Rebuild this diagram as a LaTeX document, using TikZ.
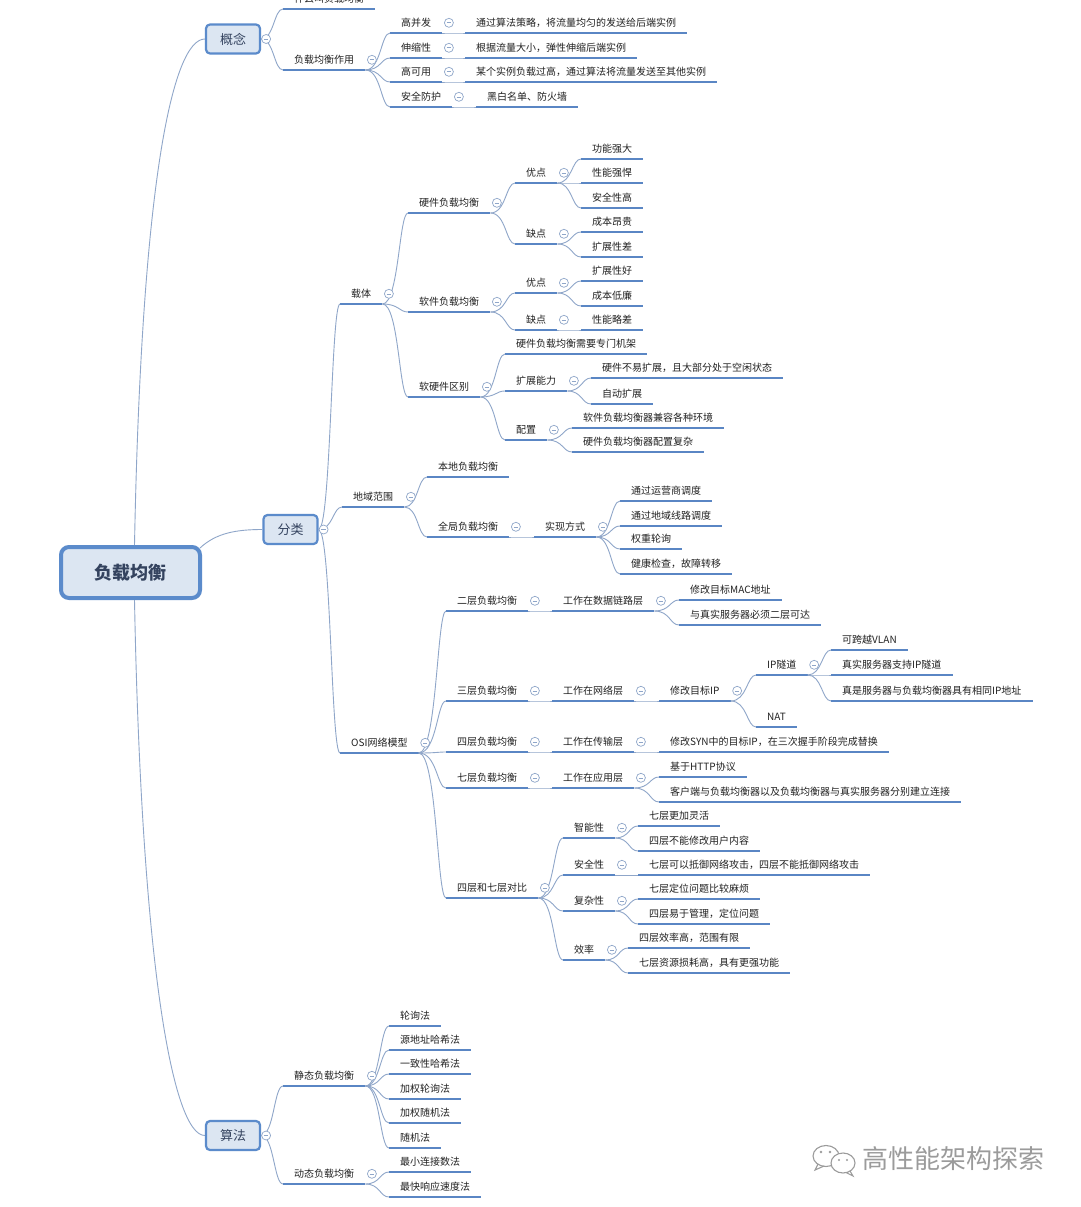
\documentclass[tikz,border=0pt]{standalone}
\usepackage{fontspec}
\setmainfont{Noto Sans CJK SC}
\usetikzlibrary{calc}
\definecolor{ul}{HTML}{5A86C4}
\definecolor{cl}{HTML}{8FA6C9}
\definecolor{bxf}{HTML}{DCE6F2}
\definecolor{bxd}{HTML}{5B8BCB}
\definecolor{tx}{HTML}{222222}
\definecolor{bt}{HTML}{34435F}
\definecolor{wm}{HTML}{9B9B9B}
\tikzset{
 tnode/.style={inner xsep=11pt, inner ysep=0pt, minimum height=20pt, font=\fontsize{10}{12}\selectfont, text=tx},
 uline/.style={draw=ul, line width=2.2pt},
 conn/.style={draw=cl, line width=0.9pt},
 colc/.style={circle, draw=cl, fill=white, line width=0.7pt, minimum size=9pt, inner sep=0pt,
   path picture={\draw[cl, line width=0.6pt] ($(path picture bounding box.west)+(2.3pt,0)$) -- ($(path picture bounding box.east)+(-2.3pt,0)$);}},
 lbox/.style={draw=bxd, fill=bxf, line width=2.2pt, rounded corners=4pt, minimum width=54pt, minimum height=29pt, font=\fontsize{13}{15}\selectfont, text=bt},
 rbox/.style={draw=bxd, fill=bxf, line width=4pt, rounded corners=8pt, minimum width=139pt, minimum height=51pt, font=\fontsize{18}{20}\selectfont\bfseries, text=bt},
}
\newcommand{\tn}[4]{\node[tnode, anchor=south west] (#1) at (#2,#3) {#4};\draw[uline] (#1.south west) -- (#1.south east);}
\newcommand{\cm}[1]{\node[colc] (#1-c) at ($(#1.east)+(6.5pt,0)$) {};}
\newcommand{\cmb}[1]{\node[colc] (#1-c) at ($(#1.east)+(5pt,0)$) {};}
\newcommand{\cn}[2]{\draw[conn] let \p1=(#1.south east), \p2=(#2.south west) in (\p1) .. controls (\x2-9pt,\y1) and (\x2-9pt,\y2) .. (\p2);}
\newcommand{\cb}[2]{\draw[conn] let \p1=(#1.east), \p2=(#2.south west) in (\p1) .. controls (\x2-9pt,\y1) and (\x2-9pt,\y2) .. (\p2);}
\newcommand{\cns}[2]{\foreach \ch in {#2} {\cn{#1}{\ch}}}
\begin{document}
\begin{tikzpicture}[x=1pt,y=-1pt]
\fill[white] (0,0) rectangle (1080,1207);
\useasboundingbox (0,0) rectangle (1080,1207);
% boxes
\node[rbox] (root) at (130.5,572.5) {负载均衡};
\node[lbox] (gn) at (233,39) {概念};
\node[lbox] (fl) at (290.5,529.5) {分类};
\node[lbox] (sf) at (233,1135.5) {算法};
% 概念
\tn{q1}{283}{9}{什么叫负载均衡}
\tn{q2}{283}{70}{负载均衡作用}
\tn{g1}{390}{33}{高并发}
\tn{g1d}{465}{33}{通过算法策略，将流量均匀的发送给后端实例}
\tn{g2}{390}{58}{伸缩性}
\tn{g2d}{465}{58}{根据流量大小，弹性伸缩后端实例}
\tn{g3}{390}{82}{高可用}
\tn{g3d}{465}{82}{某个实例负载过高，通过算法将流量发送至其他实例}
\tn{g4}{390}{107}{安全防护}
\tn{g4d}{476}{107}{黑白名单、防火墙}
% 载体
\tn{c1}{340}{304}{载体}
\tn{h1}{408}{213}{硬件负载均衡}
\tn{h1a}{515}{183}{优点}
\tn{h1a1}{581}{159}{功能强大}
\tn{h1a2}{581}{183}{性能强悍}
\tn{h1a3}{581}{208}{安全性高}
\tn{h1b}{515}{244}{缺点}
\tn{h1b1}{581}{232}{成本昂贵}
\tn{h1b2}{581}{257}{扩展性差}
\tn{h2}{408}{312}{软件负载均衡}
\tn{h2a}{515}{293}{优点}
\tn{h2a1}{581}{281}{扩展性好}
\tn{h2a2}{581}{306}{成本低廉}
\tn{h2b}{515}{330}{缺点}
\tn{h2b1}{581}{330}{性能略差}
\tn{h3}{408}{397}{软硬件区别}
\tn{h3a}{505}{354}{硬件负载均衡需要专门机架}
\tn{h3b}{505}{391}{扩展能力}
\tn{h3b1}{591}{378}{硬件不易扩展，且大部分处于空闲状态}
\tn{h3b2}{591}{404}{自动扩展}
\tn{h3c}{505}{440}{配置}
\tn{h3c1}{572}{428}{软件负载均衡器兼容各种环境}
\tn{h3c2}{572}{452}{硬件负载均衡器配置复杂}
% 地域范围
\tn{c2}{342}{507}{地域范围}
\tn{d1}{427}{477}{本地负载均衡}
\tn{d2}{427}{537}{全局负载均衡}
\tn{d3}{534}{537}{实现方式}
\tn{d31}{620}{501}{通过运营商调度}
\tn{d32}{620}{526}{通过地域线路调度}
\tn{d33}{620}{549}{权重轮询}
\tn{d34}{620}{574}{健康检查，故障转移}
% OSI
\tn{c3}{340}{753}{OSI网络模型}
\tn{o2}{446}{611}{二层负载均衡}
\tn{o2a}{552}{611}{工作在数据链路层}
\tn{o2a1}{679}{600}{修改目标MAC地址}
\tn{o2a2}{679}{625}{与真实服务器必须二层可达}
\tn{o3}{446}{701}{三层负载均衡}
\tn{o3a}{552}{701}{工作在网络层}
\tn{o3b}{659}{701}{修改目标IP}
\tn{o3c}{756}{675}{IP隧道}
\tn{o3c1}{831}{650}{可跨越VLAN}
\tn{o3c2}{831}{675}{真实服务器支持IP隧道}
\tn{o3c3}{831}{701}{真是服务器与负载均衡器具有相同IP地址}
\tn{o3d}{756}{727}{NAT}
\tn{o4}{446}{752}{四层负载均衡}
\tn{o4a}{552}{752}{工作在传输层}
\tn{o4a1}{659}{752}{修改SYN中的目标IP，在三次握手阶段完成替换}
\tn{o7}{446}{788}{七层负载均衡}
\tn{o7a}{552}{788}{工作在应用层}
\tn{o7a1}{659}{777}{基于HTTP协议}
\tn{o7a2}{659}{802}{客户端与负载均衡器以及负载均衡器与真实服务器分别建立连接}
\tn{o9}{446}{898}{四层和七层对比}
\tn{p1}{563}{838}{智能性}
\tn{p11}{638}{826}{七层更加灵活}
\tn{p12}{638}{851}{四层不能修改用户内容}
\tn{p2}{563}{875}{安全性}
\tn{p21}{638}{875}{七层可以抵御网络攻击，四层不能抵御网络攻击}
\tn{p3}{563}{911}{复杂性}
\tn{p31}{638}{899}{七层定位问题比较麻烦}
\tn{p32}{638}{924}{四层易于管理，定位问题}
\tn{p4}{563}{960}{效率}
\tn{p41}{628}{948}{四层效率高，范围有限}
\tn{p42}{628}{973}{七层资源损耗高，具有更强功能}
% 算法
\tn{a1}{283}{1086}{静态负载均衡}
\tn{a11}{389}{1026}{轮询法}
\tn{a12}{389}{1050}{源地址哈希法}
\tn{a13}{389}{1074}{一致性哈希法}
\tn{a14}{389}{1099}{加权轮询法}
\tn{a15}{389}{1123}{加权随机法}
\tn{a16}{389}{1148}{随机法}
\tn{a2}{283}{1184}{动态负载均衡}
\tn{a21}{389}{1172}{最小连接数法}
\tn{a22}{389}{1197}{最快响应速度法}
% root connectors
\draw[conn] ($(root.north)+(4,0)$) .. controls ($(root.north)+(11,-365)$) and ($(gn.west)+(-32,0)$) .. (gn.west);
\draw[conn] ($(root.south)+(4,0)$) .. controls ($(root.south)+(11,365)$) and ($(sf.west)+(-32,0)$) .. (sf.west);
\draw[conn] ($(root.north east)+(-2,3)$) .. controls ($(root.north east)+(14,-12)$) and ($(fl.west)+(-26,0)$) .. (fl.west);
% box connectors
\cb{gn}{q1}\cb{gn}{q2}
\cb{fl}{c1}\cb{fl}{c2}\cb{fl}{c3}
\cb{sf}{a1}\cb{sf}{a2}
% connectors
\cns{q2}{g1,g2,g3,g4}
\cn{g1}{g1d}\cn{g2}{g2d}\cn{g3}{g3d}\cn{g4}{g4d}
\cns{c1}{h1,h2,h3}
\cns{h1}{h1a,h1b}\cns{h1a}{h1a1,h1a2,h1a3}\cns{h1b}{h1b1,h1b2}
\cns{h2}{h2a,h2b}\cns{h2a}{h2a1,h2a2}\cn{h2b}{h2b1}
\cns{h3}{h3a,h3b,h3c}\cns{h3b}{h3b1,h3b2}\cns{h3c}{h3c1,h3c2}
\cns{c2}{d1,d2}\cn{d2}{d3}\cns{d3}{d31,d32,d33,d34}
\cns{c3}{o2,o3,o4,o7,o9}
\cn{o2}{o2a}\cns{o2a}{o2a1,o2a2}
\cn{o3}{o3a}\cn{o3a}{o3b}\cns{o3b}{o3c,o3d}\cns{o3c}{o3c1,o3c2,o3c3}
\cn{o4}{o4a}\cn{o4a}{o4a1}
\cn{o7}{o7a}\cns{o7a}{o7a1,o7a2}
\cns{o9}{p1,p2,p3,p4}\cns{p1}{p11,p12}\cn{p2}{p21}\cns{p3}{p31,p32}\cns{p4}{p41,p42}
\cns{a1}{a11,a12,a13,a14,a15,a16}\cns{a2}{a21,a22}
% collapse circles
\cmb{gn}\cmb{fl}\cmb{sf}
\foreach \n in {q2,g1,g2,g3,g4,c1,h1,h1a,h1b,h2,h2a,h2b,h3,h3b,h3c,c2,d2,d3,c3,o2,o2a,o3,o3a,o3b,o3c,o4,o4a,o7,o7a,o9,p1,p2,p3,p4,a1,a2} {\cm{\n}}
% watermark
\draw[wm, line width=1.1pt, fill=white] (826,1156) ellipse (13 and 10.5);
\draw[wm, line width=1.1pt] (818,1164) -- (815,1170) -- (824,1166);
\draw[wm, line width=1.1pt, fill=white] (843,1163) ellipse (12 and 10);
\draw[wm, line width=1.1pt] (850,1171) -- (853,1176) -- (846,1172.5);
\fill[wm] (821,1152) circle (1.3) (830,1152) circle (1.3) (839,1160) circle (1.2) (847,1160) circle (1.2);
\node[font=\fontsize{26}{28}\selectfont, text=wm, inner sep=0pt] (wmt) at (953.5,1159) {高性能架构探索};
\end{tikzpicture}
\end{document}
